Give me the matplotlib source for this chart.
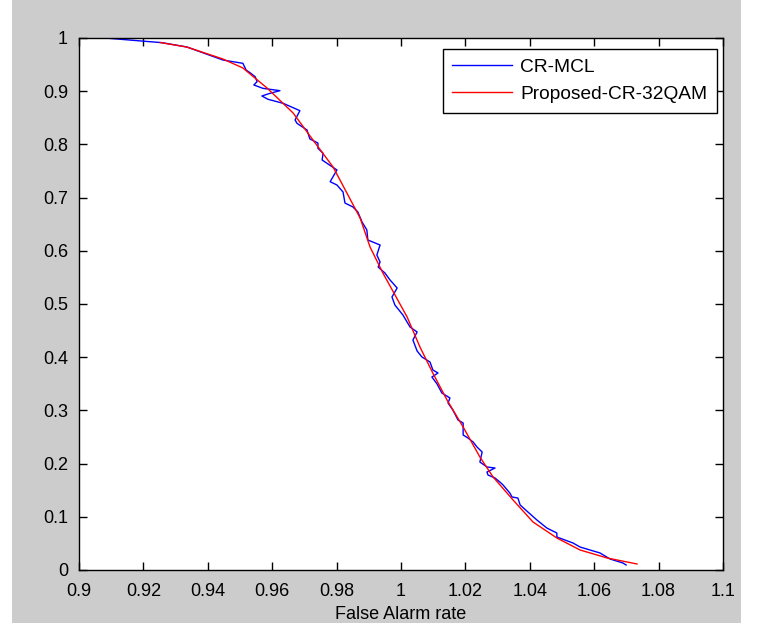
import matplotlib
matplotlib.use('Agg')
import matplotlib.pyplot as plt
import numpy as np
from matplotlib.patches import Rectangle

plt.rcParams['font.family'] = ['Liberation Sans', 'DejaVu Sans']

mcl_x = [0.9081, 0.9183, 0.9258, 0.9335, 0.9447, 0.9509, 0.9519, 0.9531, 0.9547, 0.9553,
         0.9543, 0.9571, 0.9624, 0.9593, 0.9568, 0.9587, 0.9634, 0.9686, 0.9671, 0.9677,
         0.9708, 0.9717, 0.9742, 0.9742, 0.9758, 0.9755, 0.9801, 0.9780, 0.9801, 0.9820,
         0.9826, 0.9851, 0.9866, 0.9879, 0.9894, 0.9897, 0.9935, 0.9925, 0.9935, 0.9929,
         0.9950, 0.9966, 0.9988, 0.9972, 0.9981, 1.0006, 1.0028, 1.0050, 1.0037, 1.0050,
         1.0065, 1.0090, 1.0099, 1.0115, 1.0096, 1.0112, 1.0127, 1.0152, 1.0146, 1.0161,
         1.0177, 1.0193, 1.0193, 1.0208, 1.0224, 1.0236, 1.0252, 1.0245, 1.0267, 1.0292,
         1.0267, 1.0270, 1.0292, 1.0307, 1.0317, 1.0338, 1.0345, 1.0363, 1.0370, 1.0401,
         1.0422, 1.0453, 1.0484, 1.0484, 1.0534, 1.0556, 1.0587, 1.0618, 1.0649, 1.0689,
         1.0699]
mcl_y = [1.0, 0.9949, 0.9912, 0.9831, 0.9586, 0.9524, 0.9398, 0.9348, 0.9273, 0.9179,
         0.9117, 0.9054, 0.9010, 0.8960, 0.8910, 0.8848, 0.8772, 0.8634, 0.8459, 0.8396,
         0.8271, 0.8102, 0.8026, 0.7927, 0.7832, 0.7707, 0.7519, 0.7299, 0.7237, 0.7105,
         0.6898, 0.6823, 0.6729, 0.6541, 0.6391, 0.6203, 0.6109, 0.5921, 0.5789, 0.5695,
         0.5583, 0.5451, 0.5301, 0.5132, 0.4981, 0.4793, 0.4568, 0.4474, 0.4323, 0.4117,
         0.4004, 0.3910, 0.3759, 0.3703, 0.3628, 0.3496, 0.3327, 0.3233, 0.3139, 0.3008,
         0.2820, 0.2763, 0.2538, 0.2481, 0.2406, 0.2312, 0.2218, 0.2030, 0.1936, 0.1917,
         0.1842, 0.1786, 0.1729, 0.1654, 0.1598, 0.1447, 0.1372, 0.1353, 0.1222, 0.1053,
         0.0940, 0.0789, 0.0695, 0.0620, 0.0508, 0.0432, 0.0376, 0.0320, 0.0207, 0.0132,
         0.0094]

# Proposed-CR-32QAM (smooth curve)
qam_x = [0.9252, 0.9335, 0.9447, 0.9509, 0.9584, 0.9665, 0.9727, 0.9789, 0.9832, 0.9873,
         0.9904, 0.9944, 1.0019, 1.0059, 1.0099, 1.0143, 1.0193, 1.0245, 1.0286, 1.0348,
         1.0410, 1.0484, 1.0556, 1.0640, 1.0733]
qam_y = [0.9915, 0.9830, 0.9605, 0.9436, 0.9060, 0.8590, 0.8080, 0.7575, 0.7086, 0.6617,
         0.6070, 0.5580, 0.4756, 0.4190, 0.3700, 0.3195, 0.2688, 0.2124, 0.1748, 0.1316,
         0.0902, 0.0602, 0.0376, 0.0226, 0.0113]

xticks = [0.9, 0.92, 0.94, 0.96, 0.98, 1.0, 1.02, 1.04, 1.06, 1.08, 1.1]
xticklabels = ['0.9', '0.92', '0.94', '0.96', '0.98', '1', '1.02', '1.04', '1.06', '1.08', '1.1']
yticks = [0, 0.1, 0.2, 0.3, 0.4, 0.5, 0.6, 0.7, 0.8, 0.9, 1.0]
yticklabels = ['0', '0.1', '0.2', '0.3', '0.4', '0.5', '0.6', '0.7', '0.8', '0.9', '1']

fig = plt.figure(figsize=(7.61, 6.23), dpi=100)
fig.patch.set_facecolor('white')
# grey MATLAB figure area
fig.patches.append(Rectangle((12 / 761, 0), (741 - 12) / 761, 1, transform=fig.transFigure,
                             facecolor='#cccccc', edgecolor='none', zorder=-10))

ax = fig.add_axes([79 / 761, 53 / 623, 644 / 761, 532 / 623])
ax.plot(mcl_x, mcl_y, color='#0000ff', lw=1.0, label='CR-MCL')
ax.plot(qam_x, qam_y, color='#ff0000', lw=1.0, label='Proposed-CR-32QAM')

ax.set_xlim(0.9, 1.1)
ax.set_ylim(0, 1)
ax.set_xticks(xticks)
ax.set_xticklabels(xticklabels)
ax.set_yticks(yticks)
ax.set_yticklabels(yticklabels)
ax.tick_params(direction='in', length=6, width=1, top=True, right=True,
               labelsize=13, colors='black')
ax.tick_params(axis='x', pad=9)
ax.tick_params(axis='y', pad=8)
for s in ax.spines.values():
    s.set_linewidth(1)
    s.set_color('black')
ax.set_xlabel('False Alarm rate', fontsize=13, labelpad=5)

leg = ax.legend(loc='upper right', bbox_to_anchor=(0.991, 0.979), borderaxespad=0,
                fontsize=13.8, fancybox=False, framealpha=1, edgecolor='black',
                handlelength=3.1, handletextpad=0.45, borderpad=0.5, labelspacing=0.5)
leg.get_frame().set_linewidth(1)

fig.savefig('out.png', dpi=100, facecolor=fig.get_facecolor())
